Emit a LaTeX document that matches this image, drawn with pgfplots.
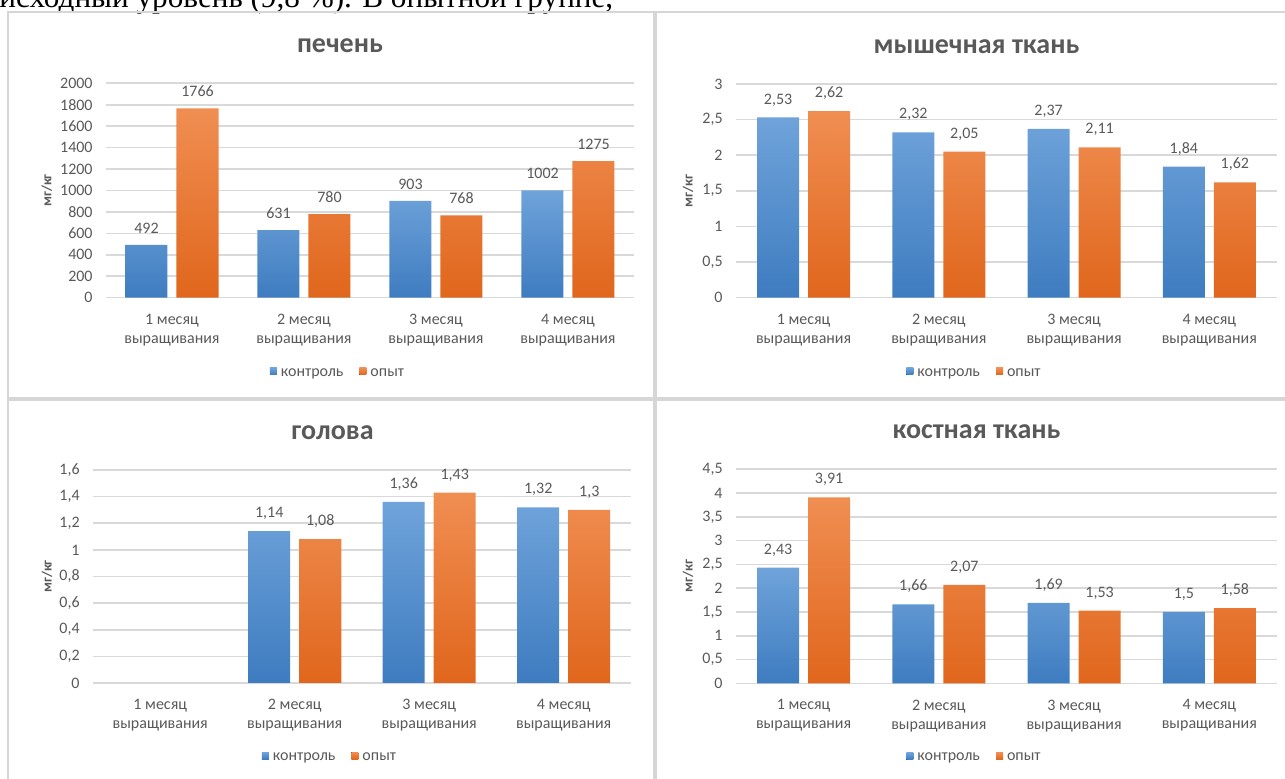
\documentclass[border=0pt]{standalone}
\usepackage{fontspec}
\setmainfont{Carlito}
\newfontfamily\seriffont{Liberation Serif}
\usepackage{pgfplots}
\pgfplotsset{compat=1.18}
\definecolor{lblgray}{HTML}{595959}
\definecolor{gridgray}{HTML}{D9D9D9}
\definecolor{framegray}{HTML}{D6D6D6}
\definecolor{bluetop}{HTML}{6FA3DA}
\definecolor{bluebot}{HTML}{3E7CC0}
\definecolor{orgtop}{HTML}{F08E52}
\definecolor{orgbot}{HTML}{E0661C}

\pgfplotsset{
  panel/.style={
    scale only axis, ybar=4.5pt, bar width=21pt, ymin=0,
    xmin=-0.5, xmax=3.5, xtick={0,1,2,3},
    xticklabels={{1 месяц\\выращивания},{2 месяц\\выращивания},{3 месяц\\выращивания},{4 месяц\\выращивания}},
    axis line style={draw=none}, major tick length=0pt,
    ymajorgrids, major grid style={draw=gridgray, line width=0.8pt},
    tick label style={font=\fontsize{8}{9.5}\selectfont, text=lblgray},
    xticklabel style={align=center, inner sep=0pt, yshift=-8pt},
    yticklabel style={inner sep=0pt, xshift=-6.5pt},
    /pgf/number format/use comma,
    /pgf/number format/1000 sep={},
    /pgf/number format/assume math mode=true,
    nodes near coords,
    every node near coord/.append style={font=\fontsize{8}{9.5}\selectfont, text=lblgray, inner sep=0pt, yshift=5.5pt},
    ylabel={мг/кг},
    every axis y label/.style={rotate=90, anchor=center, font=\bfseries\fontsize{7}{8}\selectfont, text=lblgray},
    legend columns=-1,
    legend style={draw=none, fill=none, font=\fontsize{8}{9.5}\selectfont, text=lblgray, anchor=center,
      /tikz/every even column/.append style={column sep=6pt}},
    legend image code/.code={\fill[##1] (0.5pt,-0.6pt) rectangle (4pt,2.9pt);},
  },
  ctrl/.style={draw=none, top color=bluetop, bottom color=bluebot},
  expr/.style={draw=none, top color=orgtop, bottom color=orgbot},
}

\begin{document}
\begin{tikzpicture}
\useasboundingbox (0pt,0pt) rectangle (642.5pt,-389.5pt);
\clip (0pt,0pt) rectangle (642.5pt,-389.5pt);

\begin{scope}[x=0.5pt,y=-0.5pt]
  \node[anchor=base west, inner sep=0pt, font=\seriffont\fontsize{15.6}{17}\selectfont] at (-1,8) {исходный уровень (9,8 \%). В опытной группе,};
  \draw[framegray, line width=0.75pt] (8,12) rectangle (654,398);
  \draw[framegray, line width=0.75pt] (656,12) rectangle (1295,398);
  \draw[framegray, line width=0.75pt] (8,400) rectangle (654,795);
  \draw[framegray, line width=0.75pt] (656,400) rectangle (1295,795);
  \node[font=\bfseries\fontsize{14}{16}\selectfont, text=lblgray] at (340,46) {печень};
  \node[font=\bfseries\fontsize{14}{16}\selectfont, text=lblgray] at (976.5,47) {мышечная ткань};
  \node[font=\bfseries\fontsize{14}{16}\selectfont, text=lblgray] at (332.5,433) {голова};
  \node[font=\bfseries\fontsize{14}{16}\selectfont, text=lblgray] at (976.5,432) {костная ткань};
\end{scope}

% печень
\begin{axis}[panel, at={(53pt,-148.85pt)}, anchor=south west,
  width=264pt, height=107.2pt, ymax=2000,
  ytick={0,200,400,600,800,1000,1200,1400,1600,1800,2000},
  ylabel style={at={([xshift=-29.65pt]axis description cs:0,0.5)}},
  legend style={at={([xshift=-15.5pt,yshift=-38pt]axis description cs:0.5,0)}}]
\addplot[ctrl] coordinates {(0,492) (1,631) (2,903) (3,1002)};
\addplot[expr] coordinates {(0,1766) (1,780) (2,768) (3,1275)};
\legend{контроль, опыт}
\end{axis}

% мышечная ткань
\begin{axis}[panel, at={(368pt,-148.85pt)}, anchor=south west,
  width=270.5pt, height=106.85pt, ymax=3,
  ytick={0,0.5,1,1.5,2,2.5,3},
  ylabel style={at={([xshift=-24pt]axis description cs:0,0.5)}},
  legend style={at={([xshift=-15.5pt,yshift=-38pt]axis description cs:0.5,0)}}]
\addplot[ctrl] coordinates {(0,2.53) (1,2.32) (2,2.37) (3,1.84)};
\addplot[expr] coordinates {(0,2.62) (1,2.05) (2,2.11) (3,1.62)};
\legend{контроль, опыт}
\end{axis}

% голова
\begin{axis}[panel, at={(46.5pt,-341.5pt)}, anchor=south west,
  width=269pt, height=106.5pt, ymax=1.6,
  ytick={0,0.2,0.4,0.6,0.8,1,1.2,1.4,1.6},
  ylabel style={at={([xshift=-23pt]axis description cs:0,0.5)}},
  legend style={at={([xshift=-15.5pt,yshift=-37.5pt]axis description cs:0.5,0)}}]
\addplot[ctrl] coordinates {(1,1.14) (2,1.36) (3,1.32)};
\addplot[expr] coordinates {(1,1.08) (2,1.43) (3,1.30)};
\legend{контроль, опыт}
\end{axis}

% костная ткань
\begin{axis}[panel, at={(368pt,-341.65pt)}, anchor=south west,
  width=270.5pt, height=107pt, ymax=4.5,
  ytick={0,0.5,1,1.5,2,2.5,3,3.5,4,4.5},
  ylabel style={at={([xshift=-24pt]axis description cs:0,0.5)}},
  legend style={at={([xshift=-15.5pt,yshift=-37.5pt]axis description cs:0.5,0)}}]
\addplot[ctrl] coordinates {(0,2.43) (1,1.66) (2,1.69) (3,1.50)};
\addplot[expr] coordinates {(0,3.91) (1,2.07) (2,1.53) (3,1.58)};
\legend{контроль, опыт}
\end{axis}
\end{tikzpicture}
\end{document}
